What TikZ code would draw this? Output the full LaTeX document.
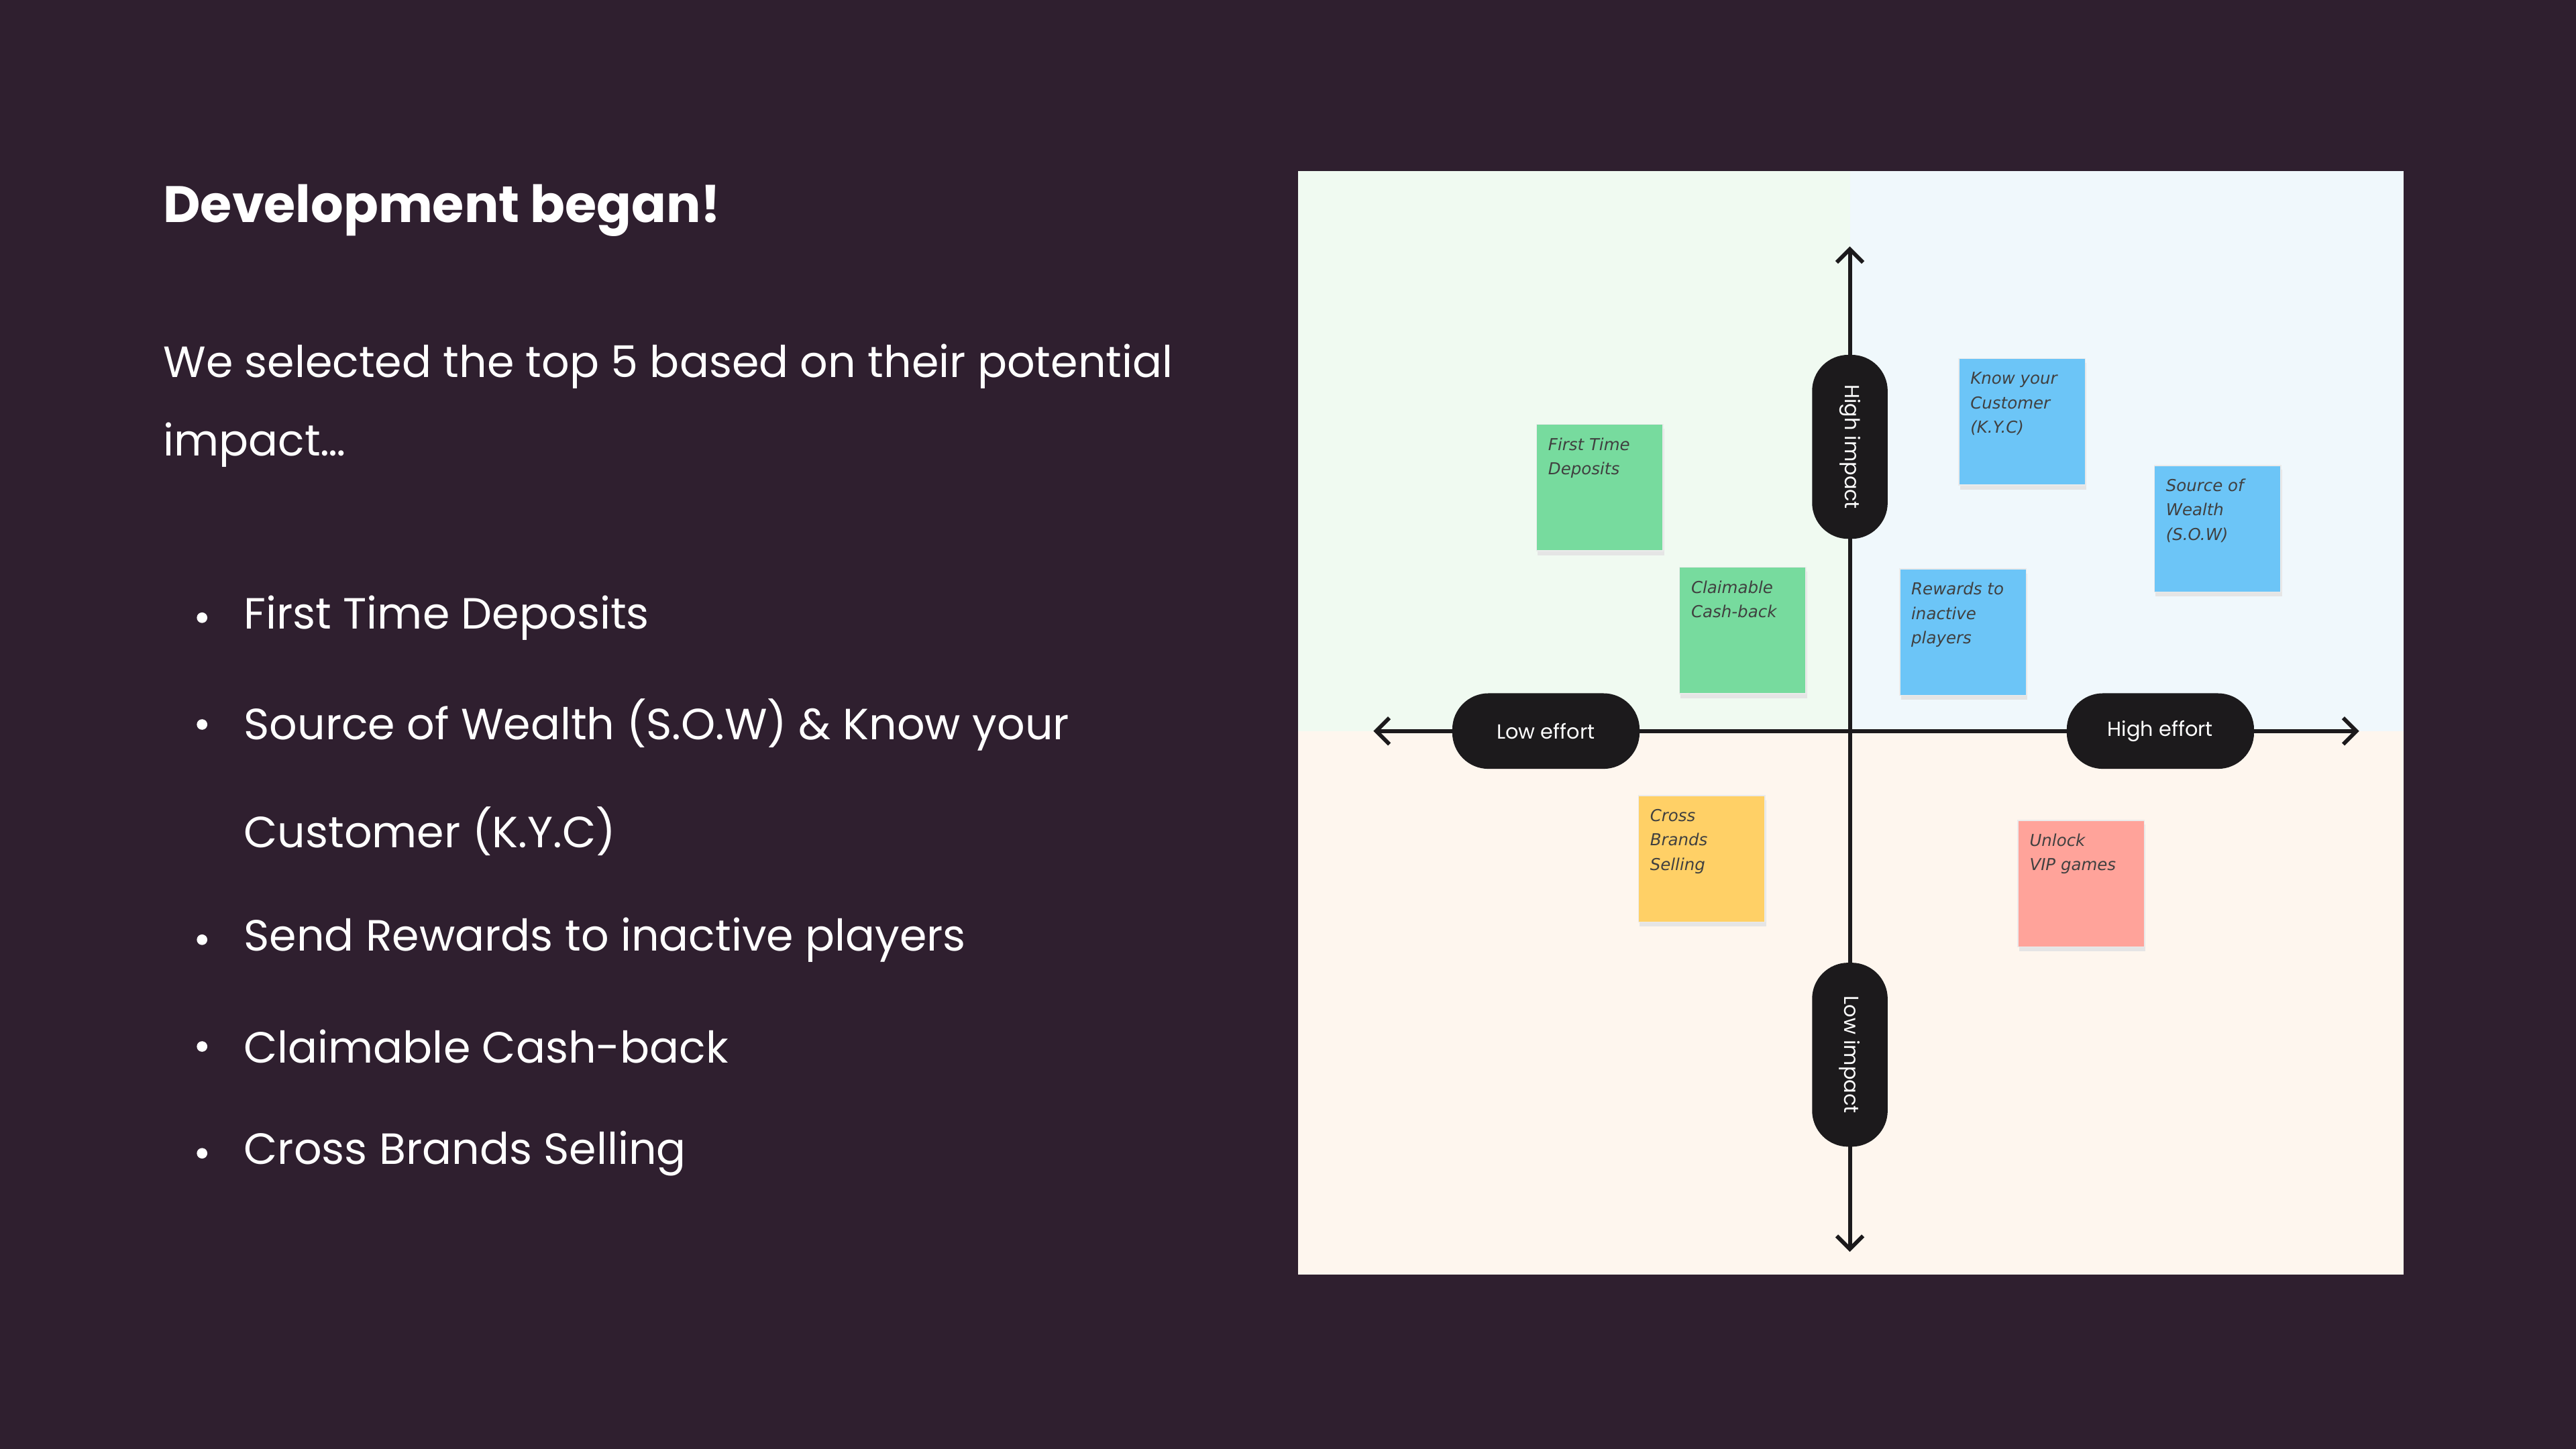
\documentclass[tikz,border=0pt]{standalone}
\usepackage{fontspec}
\setmainfont{Poppins}
\newfontfamily\notefont{DejaVu Sans}
\usetikzlibrary{arrows.meta}
\definecolor{bg}{RGB}{47,31,47}
\definecolor{qtl}{RGB}{240,250,241}
\definecolor{qtr}{RGB}{240,248,252}
\definecolor{qb}{RGB}{254,246,238}
\definecolor{ngreen}{RGB}{119,219,158}
\definecolor{nblue}{RGB}{108,197,247}
\definecolor{nyellow}{RGB}{255,208,102}
\definecolor{nred}{RGB}{255,163,154}
\definecolor{pill}{RGB}{28,26,28}
\begin{document}
\begin{tikzpicture}[x=0.5pt,y=-0.5pt,
  body/.style={anchor=west,text=white,font=\fontsize{13.3}{16}\selectfont,inner sep=0},
  note/.style={minimum width=38.5pt,minimum height=38.5pt,inner sep=0,draw=black!8,line width=0.3pt},
  ntext/.style={anchor=north west,align=left,font=\notefont\itshape\fontsize{5}{7.5}\selectfont,text=black!75,inner sep=0},
  pillh/.style={fill=pill,rounded corners=11pt,minimum width=57pt,minimum height=23pt,text=white,font=\fontsize{6.2}{8}\selectfont,inner sep=0},
  pillv/.style={pillh,rotate=-90,minimum width=56pt},
  ax/.style={line width=1.2pt,draw=pill,{Straight Barb[length=4pt,width=8pt]}-{Straight Barb[length=4pt,width=8pt]}}]
\fill[bg] (0,0) rectangle (1568,882);
\useasboundingbox (0,0) rectangle (1568,882);
\node[body,font=\bfseries\fontsize{15.6}{19}\selectfont] (title) at (99,128) {Development began!};
\node[body] (l1) at (99,223) {We selected the top 5 based on their potential};
\node[body] (l2) at (99,271) {impact…};
\foreach \y/\t [count=\i] in {376/First Time Deposits,441/Source of Wealth (S.O.W) \& Know your,572/Send Rewards to inactive players,637/Claimable Cash-back,702/Cross Brands Selling}{
  \node[body] (b\i) at (148,\y) {\t};
  \fill[white] (123,\y) circle (3.2);
}
\node[body] (b2b) at (148,506) {Customer (K.Y.C)};
% chart
\fill[qtl] (790,104) rectangle (1126,445);
\fill[qtr] (1126,104) rectangle (1463,445);
\fill[qb] (790,445) rectangle (1463,776);
\coordinate (top) at (1126,150);
\coordinate (bot) at (1126,762);
\coordinate (lft) at (836,445);
\coordinate (rgt) at (1436,445);
\draw[ax] (bot) -- (top);
\draw[ax] (lft) -- (rgt);
\node[pillv] (hi) at (1126,272) {High impact};
\node[pillv] (lo) at (1126,642) {Low impact};
\node[pillh] (le) at (941,445) {Low effort};
\node[pillh] (he) at (1315,445) {High effort};
% notes
\foreach \n/\x/\y/\c/\t in {
 ftd/935/258/ngreen/{First Time\\Deposits},
 ccb/1022/345/ngreen/{Claimable\\Cash-back},
 kyc/1192/218/nblue/{Know your\\Customer\\(K.Y.C)},
 sow/1311/283/nblue/{Source of\\Wealth\\(S.O.W)},
 rew/1156/346/nblue/{Rewards to\\inactive\\players},
 cbs/997/484/nyellow/{Cross\\Brands\\Selling},
 vip/1228/499/nred/{Unlock\\VIP games}}{
  \fill[black!10] (\x+1,\y+3) rectangle (\x+78,\y+80);
  \node[note,fill=\c,anchor=north west] (\n) at (\x,\y) {};
  \node[ntext] (\n t) at (\x+7,\y+8) {\t};
}
\end{tikzpicture}
\end{document}
